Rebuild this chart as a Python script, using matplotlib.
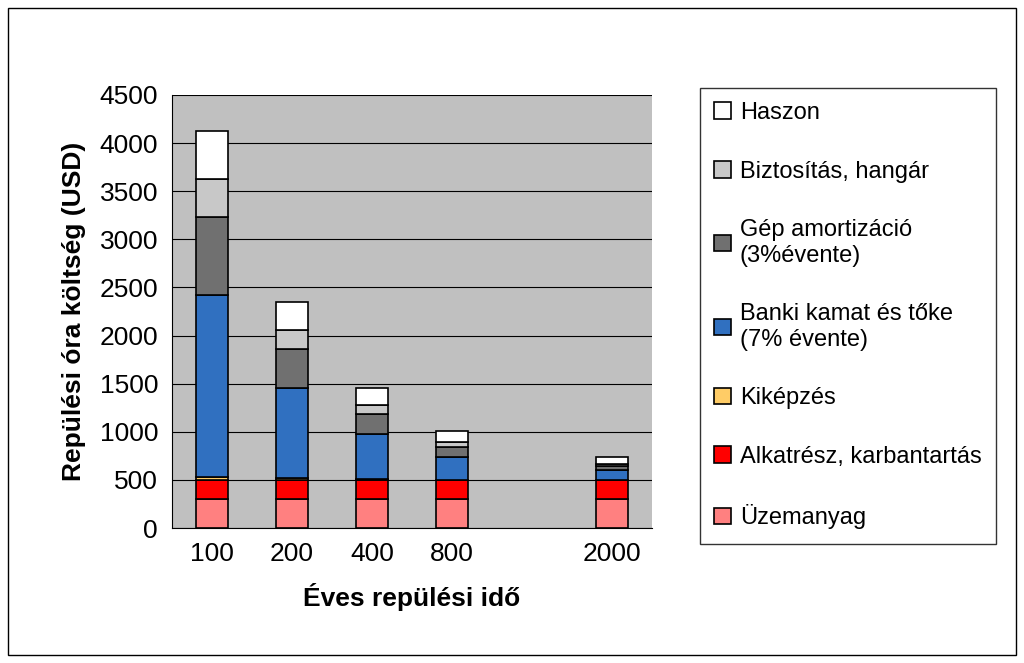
import numpy as np
import matplotlib.pyplot as plt
from matplotlib.patches import Rectangle

categories = ['100', '200', '400', '800', '', '2000']
uzemanyag = [300, 300, 300, 300, 0, 300]
alkatresz = [200, 200, 200, 200, 0, 200]
kikepzes = [30, 15, 8, 4, 0, 2]
banki = [1890, 945, 472, 236, 0, 98]
gep = [810, 405, 205, 102, 0, 40]
biztositas = [400, 195, 90, 48, 0, 20]
haszon = [500, 290, 185, 120, 0, 80]

series = [
    ('Üzemanyag', uzemanyag, '#FF8080'),
    ('Alkatrész, karbantartás', alkatresz, '#FF0000'),
    ('Kiképzés', kikepzes, '#FFCC66'),
    ('Banki kamat és tőke\n(7% évente)', banki, '#3070C0'),
    ('Gép amortizáció\n(3%évente)', gep, '#707070'),
    ('Biztosítás, hangár', biztositas, '#C8C8C8'),
    ('Haszon', haszon, '#FFFFFF'),
]

plt.rcParams['font.family'] = 'Liberation Sans'
fig = plt.figure(figsize=(10.24, 6.63), dpi=100)
fig.patches.append(Rectangle((0.008, 0.012), 0.984, 0.976, transform=fig.transFigure,
                             fill=False, edgecolor='black', linewidth=1))

ax = fig.add_axes([172 / 1024, 135 / 663, 480 / 1024, 433 / 663])
ax.set_facecolor('#C0C0C0')
x = np.arange(len(categories))
keep = [i for i in x if categories[i] != '']
bottom = np.zeros(len(categories))
handles = []
for name, vals, color in series:
    vals = np.array(vals, dtype=float)
    b = ax.bar(x[keep], vals[keep], 0.4, bottom=bottom[keep], color=color,
               edgecolor='black', linewidth=1.2, label=name)
    handles.append(b)
    bottom += vals

ax.set_xlim(-0.5, len(categories) - 0.5)
ax.set_ylim(0, 4500)
ax.set_yticks(range(0, 4501, 500))
ax.yaxis.grid(True, color='black', linewidth=0.8)
ax.set_axisbelow(True)
ax.set_xticks(x)
ax.set_xticklabels(categories)
ax.tick_params(labelsize=19, length=0, pad=10)
for s in ['top', 'right']:
    ax.spines[s].set_visible(False)
ax.set_xlabel('Éves repülési idő', fontsize=19, fontweight='bold', labelpad=12)
ax.set_ylabel('Repülési óra költség (USD)', fontsize=19, fontweight='bold', labelpad=10)

leg = fig.legend(handles[::-1], [s[0] for s in series][::-1], loc='upper left',
                 bbox_to_anchor=(688 / 1024, 1 - 76 / 663), fontsize=17, frameon=True,
                 fancybox=False, edgecolor='black', handlelength=0.7, handleheight=0.7,
                 labelspacing=1.55, borderpad=0.6, handletextpad=0.4)
leg.get_frame().set_linewidth(1)

fig.savefig('out.png', dpi=100)
